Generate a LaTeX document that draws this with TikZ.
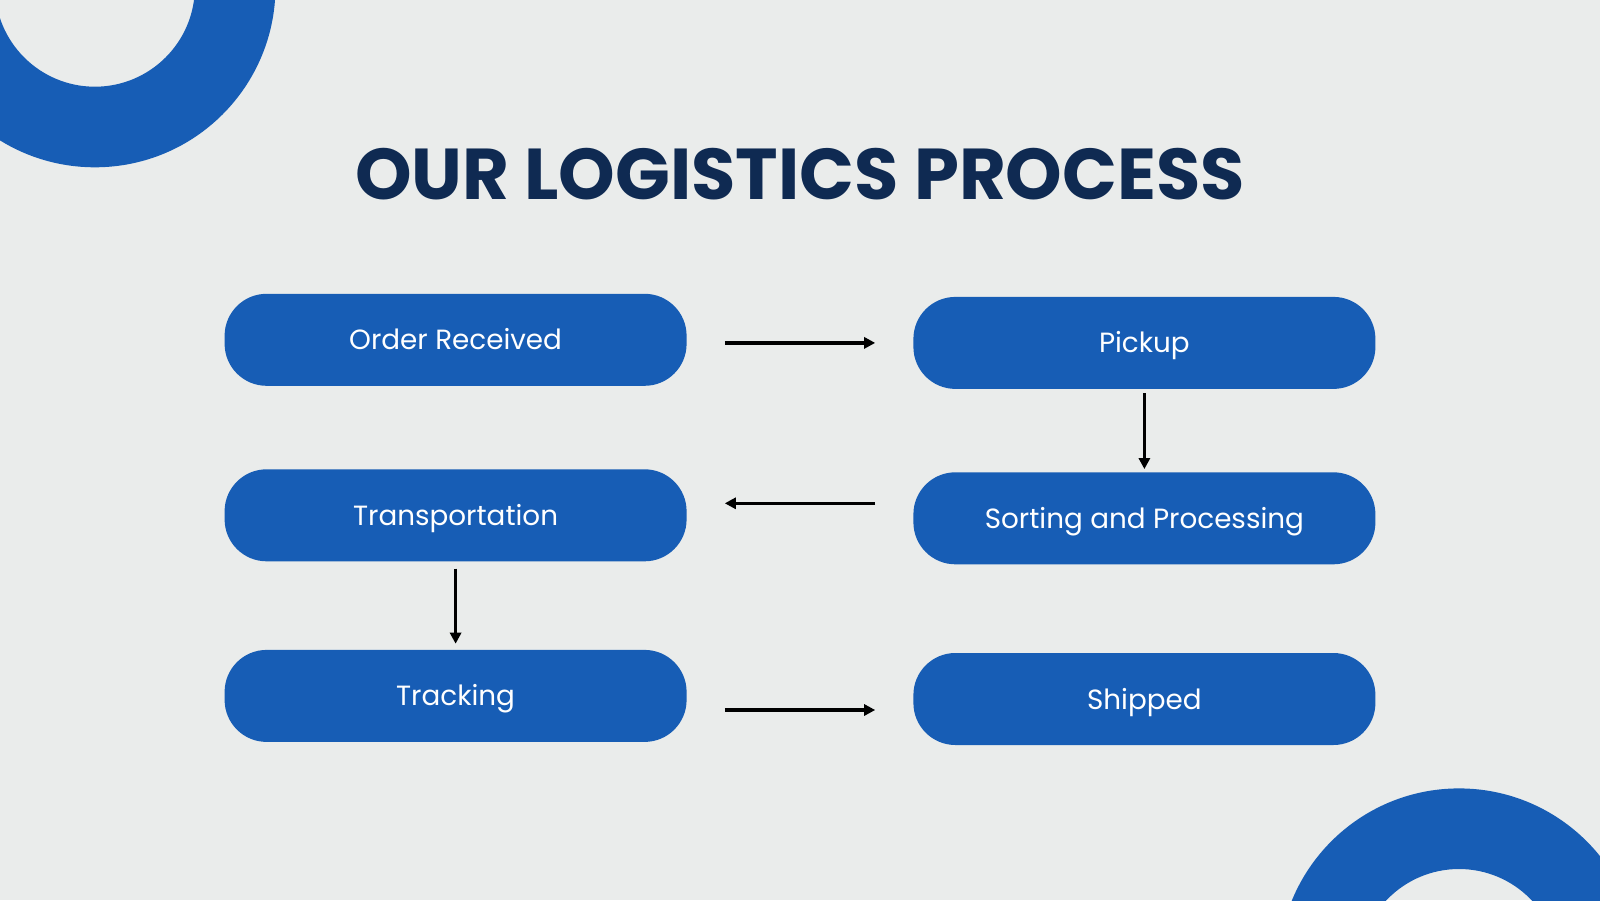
\documentclass[tikz,border=0pt]{standalone}
\usepackage{fontspec}
\setmainfont{Poppins}
\usetikzlibrary{arrows.meta}
\definecolor{bgcol}{HTML}{EAECEB}
\definecolor{boxblue}{HTML}{175DB5}
\definecolor{navy}{HTML}{0F2A52}
\begin{document}
\begin{tikzpicture}[x=1pt,y=-1pt,
  box/.style={fill=boxblue,rounded corners=42pt,minimum width=462pt,minimum height=92pt,
    inner sep=0pt,text height=20pt,text depth=0pt,text=white,font=\fontsize{27.8}{32}\selectfont},
  arr/.style={-{Triangle[length=11pt,width=11pt]},line width=3.2pt,black}]
  \fill[bgcol] (0,0) rectangle (1600,900);
  \useasboundingbox (0,0) rectangle (1600,900);
  \clip (0,0) rectangle (1600,900);
  % corner rings
  \fill[boxblue,even odd rule] (94.9,-13.3) circle (180.6pt) (94.9,-13.3) circle (100pt);
  \fill[boxblue,even odd rule] (1459,969) circle (180.6pt) (1459,969) circle (100pt);
  \node[text=navy,font=\fontsize{72}{76}\selectfont\bfseries,text height=53pt,text depth=0pt,inner sep=0pt] (title) at (800,172.5) {OUR LOGISTICS PROCESS};
  % steps
  \node[box] (or) at (455.6,339.8) {Order Received};
  \node[box] (pk) at (1144.4,342.9) {Pickup};
  \node[box] (tr) at (455.6,515.3) {Transportation};
  \node[box] (sp) at (1144.4,518.3) {Sorting and Processing};
  \node[box] (tk) at (455.6,695.9) {Tracking};
  \node[box] (sh) at (1144.4,699) {Shipped};
  % flow
  \draw[arr,shorten <=38pt,shorten >=38pt] (or.east |- pk.west) -- (pk.west);
  \draw[arr,shorten <=4pt,shorten >=3pt] (pk.south) -- (sp.north);
  \draw[arr,shorten <=38pt,shorten >=38pt] ([yshift=15pt]sp.west) -- ([yshift=15pt]sp.west -| tr.east);
  \draw[arr,shorten <=7pt,shorten >=6pt] (tr.south) -- (tk.north);
  \draw[arr,shorten <=38pt,shorten >=38pt] ([yshift=-11pt]sh.west -| tk.east) -- ([yshift=-11pt]sh.west);
\end{tikzpicture}
\end{document}
